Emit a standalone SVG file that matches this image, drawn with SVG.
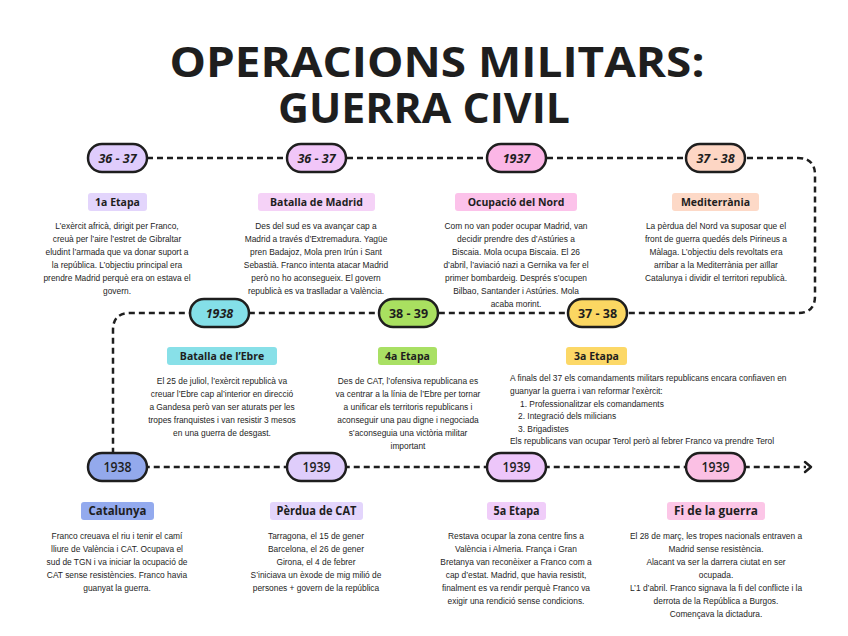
<svg xmlns="http://www.w3.org/2000/svg" width="848" height="636" viewBox="0 0 848 636">
<defs>
<style>
.title{font-family:"Open Sans","Inter",sans-serif;font-weight:700;font-size:41px;fill:#1e1e1e;text-anchor:middle}
.pill rect{stroke:#1e1e1e;stroke-width:2.5}
.pill text{font-family:"Open Sans",sans-serif;font-weight:700;font-size:12.5px;fill:#1e1e1e;text-anchor:middle}
.it{font-style:italic}
.pill text.cond{font-family:"Open Sans",sans-serif;font-size:14px;font-weight:600}
.lab text{font-family:"Open Sans",sans-serif;font-weight:700;font-size:10.5px;fill:#1e1e1e;text-anchor:middle}
.lab text.cond{font-size:11.5px}
.body{font-family:"Liberation Sans",Arial,sans-serif;font-size:8.4px;fill:#1e1e1e;text-anchor:middle}
.left{text-anchor:start}
.conn{fill:none;stroke:#1e1e1e;stroke-width:2.5;stroke-dasharray:6 4}
</style>
</defs>
<rect width="848" height="636" fill="#ffffff"/>
<text class="title" x="437" y="77" textLength="535" lengthAdjust="spacingAndGlyphs">OPERACIONS MILITARS:</text>
<text class="title" x="424" y="123" textLength="292" lengthAdjust="spacingAndGlyphs">GUERRA CIVIL</text>

<g id="connectors">
<path class="conn" d="M117,158 H798 Q815,158 815,175 V296 Q815,313 798,313 H130 Q113,313 113,330 V467 H806"/>
<path d="M805,462 L811,467 L805,472" fill="none" stroke="#1e1e1e" stroke-width="2.5" stroke-linejoin="round" stroke-linecap="round"/>
</g>

<!-- Top row -->
<g id="n1" class="pill"><rect x="88" y="144" width="59" height="28" rx="14" fill="#dfccfc"/><text class="it" x="117.5" y="162.5">36 - 37</text></g>
<g id="n2" class="pill"><rect x="287" y="144" width="59" height="28" rx="14" fill="#f1c6f8"/><text class="it" x="316.5" y="162.5">36 - 37</text></g>
<g id="n3" class="pill"><rect x="487" y="144" width="59" height="28" rx="14" fill="#fbb6e6"/><text class="it" x="516.5" y="162.5">1937</text></g>
<g id="n4" class="pill"><rect x="686" y="144" width="59" height="28" rx="14" fill="#fdd6c4"/><text class="it" x="715.5" y="162.5">37 - 38</text></g>

<!-- Middle row -->
<g id="n5" class="pill"><rect x="190" y="299" width="59" height="28" rx="14" fill="#84dfe8"/><text class="it" x="219.5" y="317.5">1938</text></g>
<g id="n6" class="pill"><rect x="379" y="299" width="59" height="28" rx="14" fill="#a9e060"/><text x="408.5" y="317.5">38 - 39</text></g>
<g id="n7" class="pill"><rect x="568" y="299" width="59" height="28" rx="14" fill="#fbd762"/><text x="597.5" y="317.5">37 - 38</text></g>

<!-- Bottom row -->
<g id="n8" class="pill"><rect x="88" y="453" width="59" height="28" rx="14" fill="#93a9ec"/><text class="cond" x="117.5" y="472" textLength="28" lengthAdjust="spacingAndGlyphs">1938</text></g>
<g id="n9" class="pill"><rect x="287" y="453" width="59" height="28" rx="14" fill="#dfcdfb"/><text class="cond" x="316.5" y="472" textLength="28" lengthAdjust="spacingAndGlyphs">1939</text></g>
<g id="n10" class="pill"><rect x="487" y="453" width="59" height="28" rx="14" fill="#edc6fa"/><text class="cond" x="516.5" y="472" textLength="28" lengthAdjust="spacingAndGlyphs">1939</text></g>
<g id="n11" class="pill"><rect x="686" y="453" width="59" height="28" rx="14" fill="#fbc0e4"/><text class="cond" x="715.5" y="472" textLength="28" lengthAdjust="spacingAndGlyphs">1939</text></g>

<!-- Labels top -->
<g id="l1" class="lab"><rect x="88" y="193" width="59" height="18" rx="3" fill="#e3d5fc"/><text x="117.5" y="205.5">1a Etapa</text></g>
<g id="l2" class="lab"><rect x="258" y="193" width="117" height="18" rx="3" fill="#f5d2f7"/><text x="316.5" y="205.5">Batalla de Madrid</text></g>
<g id="l3" class="lab"><rect x="455" y="193" width="122" height="18" rx="3" fill="#fcc2ea"/><text x="516" y="205.5">Ocupació del Nord</text></g>
<g id="l4" class="lab"><rect x="672" y="193" width="87" height="18" rx="3" fill="#fdd9c7"/><text x="715.5" y="205.5">Mediterrània</text></g>

<!-- Labels middle -->
<g id="l5" class="lab"><rect x="167" y="347" width="110" height="18" rx="3" fill="#88e0e8"/><text x="222" y="359.5">Batalla de l’Ebre</text></g>
<g id="l6" class="lab"><rect x="378" y="347" width="59" height="18" rx="3" fill="#a9e064"/><text x="407.5" y="359.5">4a Etapa</text></g>
<g id="l7" class="lab"><rect x="566" y="347" width="61" height="18" rx="3" fill="#fcd867"/><text x="596.5" y="359.5">3a Etapa</text></g>

<!-- Labels bottom -->
<g id="l8" class="lab"><rect x="81" y="502" width="73" height="18" rx="3" fill="#93aaee"/><text class="cond" x="117.5" y="515" textLength="58" lengthAdjust="spacingAndGlyphs">Catalunya</text></g>
<g id="l9" class="lab"><rect x="270" y="502" width="93" height="18" rx="3" fill="#e3d5fc"/><text class="cond" x="316.5" y="515" textLength="80" lengthAdjust="spacingAndGlyphs">Pèrdua de CAT</text></g>
<g id="l10" class="lab"><rect x="487" y="502" width="59" height="18" rx="3" fill="#f0cdf9"/><text class="cond" x="516.5" y="515" textLength="46" lengthAdjust="spacingAndGlyphs">5a Etapa</text></g>
<g id="l11" class="lab"><rect x="667" y="502" width="98" height="18" rx="3" fill="#fcc6e7"/><text class="cond" x="716" y="515" textLength="84" lengthAdjust="spacingAndGlyphs">Fi de la guerra</text></g>

<!-- Body texts top -->
<g id="t1" class="body">
<text x="117" y="229">L’exèrcit africà, dirigit per Franco,</text>
<text x="117" y="242">creuà per l’aire l’estret de Gibraltar</text>
<text x="117" y="255">eludint l’armada que va donar suport a</text>
<text x="117" y="268">la república. L’objectiu principal era</text>
<text x="117" y="281">prendre Madrid perquè era on estava el</text>
<text x="117" y="294">govern.</text>
</g>
<g id="t2" class="body">
<text x="316" y="229">Des del sud es va avançar cap a</text>
<text x="316" y="242">Madrid a través d’Extremadura. Yagüe</text>
<text x="316" y="255">pren Badajoz, Mola pren Irún i Sant</text>
<text x="316" y="268">Sebastià. Franco intenta atacar Madrid</text>
<text x="316" y="281">però no ho aconsegueix. El govern</text>
<text x="316" y="294">republicà es va traslladar a València.</text>
</g>
<g id="t3" class="body">
<text x="516" y="229">Com no van poder ocupar Madrid, van</text>
<text x="516" y="242">decidir prendre des d’Astúries a</text>
<text x="516" y="255">Biscaia. Mola ocupa Biscaia. El 26</text>
<text x="516" y="268">d’abril, l’aviació nazi a Gernika va fer el</text>
<text x="516" y="281">primer bombardeig. Després s’ocupen</text>
<text x="516" y="294">Bilbao, Santander i Astúries. Mola</text>
<text x="516" y="307">acaba morint.</text>
</g>
<g id="t4" class="body">
<text x="716" y="229">La pèrdua del Nord va suposar que el</text>
<text x="716" y="242">front de guerra quedés dels Pirineus a</text>
<text x="716" y="255">Màlaga. L’objectiu dels revoltats era</text>
<text x="716" y="268">arribar a la Mediterrània per aïllar</text>
<text x="716" y="281">Catalunya i dividir el territori republicà.</text>
</g>

<!-- Body texts middle -->
<g id="t5" class="body">
<text x="222" y="384">El 25 de juliol, l’exèrcit republicà va</text>
<text x="222" y="397">creuar l’Ebre cap al’interior en direcció</text>
<text x="222" y="410">a Gandesa però van ser aturats per les</text>
<text x="222" y="423">tropes franquistes i van resistir 3 mesos</text>
<text x="222" y="436">en una guerra de desgast.</text>
</g>
<g id="t6" class="body">
<text x="408" y="384">Des de CAT, l’ofensiva republicana es</text>
<text x="408" y="397">va centrar a la línia de l’Ebre per tornar</text>
<text x="408" y="410">a unificar els territoris republicans i</text>
<text x="408" y="423">aconseguir una pau digne i negociada</text>
<text x="408" y="436">s’aconseguia una victòria militar</text>
<text x="408" y="449">important</text>
</g>
<g id="t7" class="body left">
<text class="left" x="510" y="381">A finals del 37 els comandaments militars republicans encara confiaven en</text>
<text class="left" x="510" y="394">guanyar la guerra i van reformar l’exèrcit:</text>
<text class="left" x="520" y="407">1. Professionalitzar els comandaments</text>
<text class="left" x="518" y="419">2. Integració dels milicians</text>
<text class="left" x="518" y="432">3. Brigadistes</text>
<text class="left" x="510" y="444">Els republicans van ocupar Terol però al febrer Franco va prendre Terol</text>
</g>

<!-- Body texts bottom -->
<g id="t8" class="body">
<text x="117" y="539">Franco creuava el riu i tenir el camí</text>
<text x="117" y="552">lliure de València i CAT. Ocupava el</text>
<text x="117" y="565">sud de TGN i va iniciar la ocupació de</text>
<text x="117" y="578">CAT sense resistències. Franco havia</text>
<text x="117" y="591">guanyat la guerra.</text>
</g>
<g id="t9" class="body">
<text x="316" y="539">Tarragona, el 15 de gener</text>
<text x="316" y="552">Barcelona, el 26 de gener</text>
<text x="316" y="565">Girona, el 4 de febrer</text>
<text x="316" y="578">S’iniciava un èxode de mig milió de</text>
<text x="316" y="591">persones + govern de la república</text>
</g>
<g id="t10" class="body">
<text x="516" y="539">Restava ocupar la zona centre fins a</text>
<text x="516" y="552">València i Almeria. França i Gran</text>
<text x="516" y="565">Bretanya van reconèixer a Franco com a</text>
<text x="516" y="578">cap d’estat. Madrid, que havia resistit,</text>
<text x="516" y="591">finalment es va rendir perquè Franco va</text>
<text x="516" y="604">exigir una rendició sense condicions.</text>
</g>
<g id="t11" class="body">
<text x="716" y="539">El 28 de març, les tropes nacionals entraven a</text>
<text x="716" y="552">Madrid sense resistència.</text>
<text x="716" y="565">Alacant va ser la darrera ciutat en ser</text>
<text x="716" y="578">ocupada.</text>
<text x="716" y="591">L’1 d’abril. Franco signava la fi del conflicte i la</text>
<text x="716" y="604">derrota de la República a Burgos.</text>
<text x="716" y="617">Començava la dictadura.</text>
</g>
</svg>
